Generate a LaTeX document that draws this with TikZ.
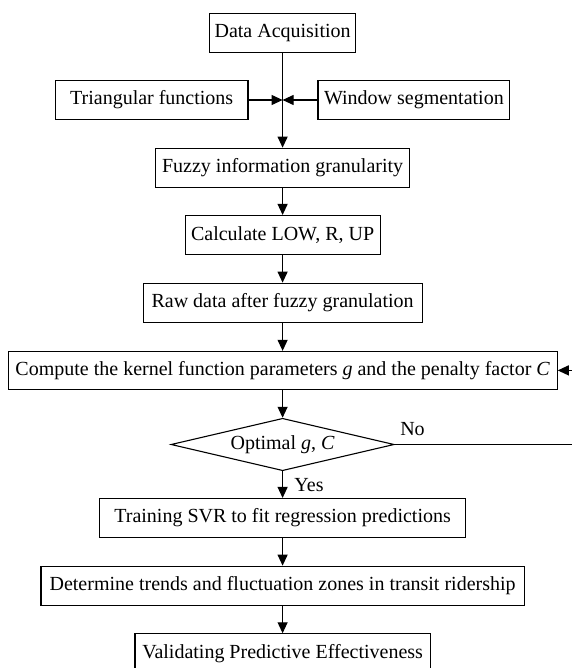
\documentclass[tikz,border=0pt]{standalone}
\usepackage{fontspec}
\setmainfont{Liberation Serif}
\usetikzlibrary{arrows.meta,shapes.geometric}
\begin{document}
\begin{tikzpicture}[x=1pt,y=-1pt,
  font=\fontsize{20}{23}\selectfont,
  every path/.style={line width=1.1pt},
  box/.style={draw,line width=1.1pt,inner sep=0pt,minimum height=39pt,align=center},
  dec/.style={draw,line width=1.1pt,diamond,aspect=4.26,inner sep=0pt,minimum width=223.2pt,minimum height=52.4pt},
  arr/.style={-{Triangle[length=11pt,width=10pt]}},
  lbl/.style={inner sep=0pt}]
\useasboundingbox (0,0) rectangle (571,668);
\node[box,minimum width=146pt] (da) at (282.6,32.8) {Data Acquisition};
\node[box,minimum width=192.6pt] (tri) at (151.7,100) {Triangular functions};
\node[box,minimum width=191.9pt] (win) at (413.9,100) {Window segmentation};
\node[box,minimum width=253.9pt] (fuz) at (282.6,167.7) {Fuzzy information granularity};
\node[box,minimum width=194.9pt] (calc) at (282.6,235) {Calculate LOW, R, UP};
\node[box,minimum width=279pt] (raw) at (282.6,302.7) {Raw data after fuzzy granulation};
\node[box,minimum width=549pt,minimum height=38pt] (comp) at (282.7,370.4) {Compute the kernel function parameters \textit{g} and the penalty factor \textit{C}};
\node[dec] (dia) at (282.6,444.5) {Optimal \textit{g}, \textit{C}};
\node[box,minimum width=365.6pt] (train) at (282.6,518) {Training SVR to fit regression predictions};
\node[box,minimum width=483.2pt] (det) at (282.6,585.7) {Determine trends and fluctuation zones in transit ridership};
\node[box,minimum width=295.3pt] (val) at (282.6,653.3) {Validating Predictive Effectiveness};
\node[lbl] (no) at (412.5,429.3) {No};
\node[lbl] (yes) at (309,485) {Yes};
\coordinate (j) at (282.6,100);
\coordinate (fb) at (600,444.5);
\draw[arr] (da.south) -- (fuz.north);
\draw[arr] (tri.east) -- (j);
\draw[arr] (win.west) -- (j);
\draw[arr] (fuz.south) -- (calc.north);
\draw[arr] (calc.south) -- (raw.north);
\draw[arr] (raw.south) -- (comp.north -| raw.south);
\draw[arr] (comp.south -| dia.north) -- (dia.north);
\draw[arr] (dia.south) -- (train.north);
\draw[arr] (train.south) -- (det.north);
\draw[arr] (det.south) -- (val.north);
\draw[arr] (dia.east) -- (fb) |- (comp.east);
\end{tikzpicture}
\end{document}
